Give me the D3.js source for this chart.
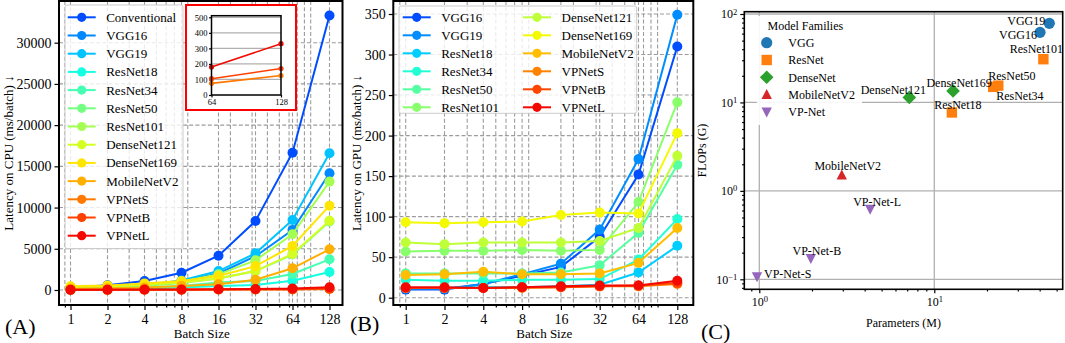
<!DOCTYPE html>
<html>
<head>
<meta charset="utf-8">
<script src="https://cdn.jsdelivr.net/npm/d3@7"></script>
<style>
  html, body { margin: 0; padding: 0; background: #fff; }
  svg { display: block; font-family: "Liberation Serif", "Times New Roman", serif; }
</style>
</head>
<body>
<svg id="chart" width="1065" height="343"></svg>
<script>
// ---- data ----
const batchSizes = [1, 2, 4, 8, 16, 32, 64, 128];

const cpuModels = ["Conventional", "VGG16", "VGG19", "ResNet18", "ResNet34", "ResNet50", "ResNet101",
  "DenseNet121", "DenseNet169", "MobileNetV2", "VPNetS", "VPNetB", "VPNetL"];
const cpuLatency = [
  [300, 580, 1090, 2100, 4160, 8370, 16660, 33300],
  [150, 280, 550, 1050, 2000, 4100, 7280, 14160],
  [170, 320, 620, 1150, 2300, 4450, 8500, 16590],
  [40, 80, 150, 290, 500, 620, 1130, 2180],
  [80, 140, 260, 500, 900, 1100, 1940, 3720],
  [200, 300, 500, 850, 1400, 2300, 4300, 8300],
  [300, 400, 600, 1000, 1900, 3600, 6760, 13150],
  [380, 450, 650, 900, 1400, 2300, 4370, 8410],
  [450, 560, 800, 1100, 1700, 2900, 5340, 10230],
  [150, 200, 300, 500, 700, 1250, 2630, 4940],
  [15, 18, 25, 35, 50, 60, 75, 125],
  [18, 22, 30, 45, 60, 80, 105, 170],
  [25, 35, 50, 70, 100, 130, 180, 330]
];
const cpuYTicks = [0, 5000, 10000, 15000, 20000, 25000, 30000];

const insetModels = ["VPNetS", "VPNetB", "VPNetL"];
const insetBatch = [64, 128];
const insetLatency = [[75, 125], [105, 170], [180, 330]];
const insetYTicks = [0, 100, 200, 300, 400, 500];

const gpuModels = ["VGG16", "VGG19", "ResNet18", "ResNet34", "ResNet50", "ResNet101",
  "DenseNet121", "DenseNet169", "MobileNetV2", "VPNetS", "VPNetB", "VPNetL"];
const gpuLatency = [
  [10, 10, 17, 27, 38, 75, 152, 310],
  [11, 11, 17, 29, 42, 84, 171, 349],
  [12, 12, 13, 13, 14, 16, 31, 64],
  [22, 21, 21, 22, 22, 23, 47, 97],
  [30, 30, 30, 30, 31, 40, 80, 164],
  [57, 58, 58, 59, 58, 59, 118, 241],
  [68, 66, 68, 68, 68, 70, 86, 175],
  [93, 92, 93, 94, 102, 105, 104, 203],
  [28, 29, 32, 29, 29, 30, 43, 86],
  [12, 12, 12, 12, 13, 14, 14, 17],
  [12, 12, 12, 13, 13, 14, 15, 18],
  [13, 13, 12, 13, 14, 15, 15, 21]
];
const gpuYTicks = [0, 50, 100, 150, 200, 250, 300, 350];

const families = ["VGG", "ResNet", "DenseNet", "MobileNetV2", "VP-Net"];
const familyColors = ["#1f77b4", "#ff7f0e", "#2ca02c", "#d62728", "#9467bd"];
const familyShapes = ["circle", "square", "diamond", "triangleUp", "triangleDown"];

const scatterNames = ["VGG16", "VGG19", "ResNet18", "ResNet34", "ResNet50", "ResNet101",
  "DenseNet121", "DenseNet169", "MobileNetV2", "VP-Net-S", "VP-Net-B", "VP-Net-L"];
const scatterFamily = ["VGG", "VGG", "ResNet", "ResNet", "ResNet", "ResNet",
  "DenseNet", "DenseNet", "MobileNetV2", "VP-Net", "VP-Net", "VP-Net"];
const scatterParams = [40.2, 45.4, 12.6, 21.7, 23.2, 42.0, 7.2, 12.8, 2.96, 0.97, 1.97, 4.3];
const scatterFlops = [62, 78.5, 7.7, 15.0, 15.5, 30.8, 11.4, 13.5, 1.51, 0.107, 0.172, 0.62];

// label placement (px offset from the point, text anchor)
const labelOffset = {
  "VGG16": [-3, 2, "end"], "VGG19": [-4, -2, "end"], "ResNet18": [6, -8, "middle"],
  "ResNet34": [3, 9, "start"], "ResNet50": [-10, -10, "start"], "ResNet101": [-7, -10, "middle"],
  "DenseNet121": [-16, -8, "middle"], "DenseNet169": [6, -8, "middle"], "MobileNetV2": [6, -9, "middle"],
  "VP-Net-S": [7, -3, "start"], "VP-Net-B": [6, -8, "middle"], "VP-Net-L": [7, -7, "middle"]
};

// ---- helpers ----
const svg = d3.select("#chart");
const GRID = "#9c9c9c";

// matplotlib jet
function jet(t) {
  const seg = (pts) => {
    for (let i = 1; i < pts.length; i++) {
      if (t <= pts[i][0]) {
        const [x0, y0] = pts[i - 1], [x1, y1] = pts[i];
        return y0 + (y1 - y0) * (t - x0) / (x1 - x0);
      }
    }
    return pts[pts.length - 1][1];
  };
  const r = seg([[0, 0], [0.35, 0], [0.66, 1], [0.89, 1], [1, 0.5]]);
  const g = seg([[0, 0], [0.125, 0], [0.375, 1], [0.64, 1], [0.91, 0], [1, 0]]);
  const b = seg([[0, 0.5], [0.11, 1], [0.34, 1], [0.65, 0], [1, 0]]);
  return d3.rgb(r * 255, g * 255, b * 255).formatHex();
}
const jetColors = (n) => d3.range(n).map(i => jet(0.2 + 0.7 * i / (n - 1)));

function minorLog(lo, hi) {
  const out = [];
  for (let p = -2; p <= 3; p++) {
    for (let k = 2; k <= 9; k++) {
      const v = k * Math.pow(10, p);
      if (v >= lo && v <= hi) out.push(v);
    }
  }
  return out;
}

function styleAxis(a, size) {
  a.attr("font-family", null).attr("font-size", null);
  a.select(".domain").remove();
  a.selectAll("line").attr("stroke", "#000").attr("stroke-width", 1.2);
  a.selectAll("text").attr("font-size", size).attr("fill", "#000");
}

function linePanel(opts) {
  const { x0, x1, y0, y1, xs, ys, yTicks, models, values, colors, ylabel, labelX } = opts;
  const g = svg.append("g");
  const lo = xs.invert(x0), hi = xs.invert(x1);
  const minor = minorLog(lo, hi).filter(v => !batchSizes.includes(v));

  // grid
  const grid = g.append("g").attr("stroke", GRID).attr("stroke-width", 1.1).attr("stroke-dasharray", "4,2.2");
  grid.selectAll(".vx").data(batchSizes.concat(minor)).enter().append("line")
    .attr("x1", d => xs(d)).attr("x2", d => xs(d)).attr("y1", y0).attr("y2", y1);
  grid.selectAll(".hy").data(yTicks).enter().append("line")
    .attr("x1", x0).attr("x2", x1).attr("y1", d => ys(d)).attr("y2", d => ys(d));

  // axes
  const xAxis = g.append("g").attr("transform", `translate(0,${y1})`)
    .call(d3.axisBottom(xs).tickValues(batchSizes).tickFormat(d3.format("d")).tickSize(5).tickPadding(4));
  const xMinor = g.append("g").attr("transform", `translate(0,${y1})`)
    .call(d3.axisBottom(xs).tickValues(minor).tickFormat("").tickSize(2.5));
  const yAxis = g.append("g").attr("transform", `translate(${x0},0)`)
    .call(d3.axisLeft(ys).tickValues(yTicks).tickFormat(d3.format("d")).tickSize(4.5).tickPadding(3));
  [xAxis, xMinor, yAxis].forEach(a => styleAxis(a, 14));

  // series
  const line = d3.line().x((d, i) => xs(batchSizes[i])).y(d => ys(d));
  const series = g.append("g");
  models.forEach((m, k) => {
    series.append("path").datum(values[k])
      .attr("d", line).attr("fill", "none").attr("stroke", colors[k]).attr("stroke-width", 2);
    series.selectAll(null).data(values[k]).enter().append("circle")
      .attr("cx", (d, i) => xs(batchSizes[i])).attr("cy", d => ys(d))
      .attr("r", 5).attr("fill", colors[k]);
  });

  g.append("rect").attr("x", x0).attr("y", y0).attr("width", x1 - x0).attr("height", y1 - y0)
    .attr("fill", "none").attr("stroke", "#000").attr("stroke-width", 2);

  g.append("text").attr("x", (x0 + x1) / 2 + 1).attr("y", 337.5).attr("text-anchor", "middle")
    .attr("font-size", 13).text("Batch Size");
  g.append("text").attr("transform", `translate(${labelX},${(y0 + y1) / 2}) rotate(-90)`)
    .attr("text-anchor", "middle").attr("dy", "0.35em").attr("font-size", 13).text(ylabel);
  return g;
}

function legendEntry(g, x, y, color, name, gap) {
  g.append("line").attr("x1", x - 14).attr("x2", x + 14).attr("y1", y).attr("y2", y)
    .attr("stroke", color).attr("stroke-width", 2);
  g.append("circle").attr("cx", x).attr("cy", y).attr("r", 4.6).attr("fill", color);
  g.append("text").attr("x", x + gap).attr("y", y).attr("dy", "0.34em").attr("font-size", 13).text(name);
}

// ---- panel A : CPU ----
const xA = d3.scaleLog().base(2).domain([1, 128]).range([70.5, 329.5]);
const yA = d3.scaleLinear().domain([0, 30000]).range([290, 42.7]);
const colorsA = jetColors(cpuModels.length);
linePanel({ x0: 59, x1: 342.5, y0: 1, y1: 305, xs: xA, ys: yA, yTicks: cpuYTicks,
  models: cpuModels, values: cpuLatency, colors: colorsA,
  ylabel: "Latency on CPU (ms/batch) \u2193", labelX: 8 });

const legA = svg.append("g");
legA.append("rect").attr("x", 65).attr("y", 5).attr("width", 118).attr("height", 243.5).attr("rx", 2)
  .attr("fill", "#fff").attr("fill-opacity", 0.8).attr("stroke", "#cccccc").attr("stroke-width", 1);
cpuModels.forEach((m, i) => legendEntry(legA, 81.7, 17.3 + 18.2 * i, colorsA[i], m, 24.5));

// inset
const inset = svg.append("g");
inset.append("rect").attr("x", 186).attr("y", 5).attr("width", 110).attr("height", 105)
  .attr("fill", "#fff").attr("stroke", "#ff0000").attr("stroke-width", 2);
const xI = d3.scaleLinear().domain([64, 128]).range([211.5, 281]);
const yI = d3.scaleLinear().domain([0, 500]).range([95, 17.3]);
inset.selectAll(".ig").data(insetYTicks.slice(1)).enter().append("line")
  .attr("x1", 211.5).attr("x2", 281).attr("y1", d => yI(d)).attr("y2", d => yI(d))
  .attr("stroke", "#b0b0b0").attr("stroke-width", 1.2);
const iy = inset.append("g").attr("transform", "translate(211.5,0)")
  .call(d3.axisLeft(yI).tickValues(insetYTicks).tickSize(2.5).tickPadding(1.5));
const ix = inset.append("g").attr("transform", "translate(0,95)")
  .call(d3.axisBottom(xI).tickValues(insetBatch).tickSize(2.5).tickPadding(1.5));
[iy, ix].forEach(a => styleAxis(a, 8.5));
const colorsI = insetModels.map(m => colorsA[cpuModels.indexOf(m)]);
const lineI = d3.line().x((d, i) => xI(insetBatch[i])).y(d => yI(d));
insetModels.forEach((m, k) => {
  inset.append("path").datum(insetLatency[k]).attr("d", lineI).attr("fill", "none")
    .attr("stroke", colorsI[k]).attr("stroke-width", 1.6);
  inset.selectAll(null).data(insetLatency[k]).enter().append("circle")
    .attr("cx", (d, i) => xI(insetBatch[i])).attr("cy", d => yI(d)).attr("r", 2.6).attr("fill", colorsI[k]);
});
inset.append("rect").attr("x", 211.5).attr("y", 15.7).attr("width", 69.5).attr("height", 79.3)
  .attr("fill", "none").attr("stroke", "#000").attr("stroke-width", 1.5);

// ---- panel B : GPU ----
const xB = d3.scaleLog().base(2).domain([1, 128]).range([405.7, 677.3]);
const yB = d3.scaleLinear().domain([0, 350]).range([297.7, 14]);
const colorsB = jetColors(gpuModels.length);
linePanel({ x0: 393.3, x1: 693.3, y0: 1, y1: 305, xs: xB, ys: yB, yTicks: gpuYTicks,
  models: gpuModels, values: gpuLatency, colors: colorsB,
  ylabel: "Latency on GPU (ms/batch) \u2193", labelX: 356 });

const legB = svg.append("g");
legB.append("rect").attr("x", 399).attr("y", 6).attr("width", 237.7).attr("height", 107.3).attr("rx", 2)
  .attr("fill", "#fff").attr("fill-opacity", 0.8).attr("stroke", "#cccccc").attr("stroke-width", 1);
gpuModels.forEach((m, i) => {
  const col = Math.floor(i / 6), row = i % 6;
  legendEntry(legB, col === 0 ? 416.7 : 537, 17.3 + 18 * row, colorsB[i], m, 24.5);
});

// ---- panel C : params vs FLOPs ----
const cx0 = 744.3, cx1 = 1062.7, cy0 = 11.7, cy1 = 289.3;
const xC = d3.scaleLog().domain([1, 10]).range([759.3, 934.3]);
const yC = d3.scaleLog().domain([0.1, 100]).range([279.3, 14]);
const gC = svg.append("g");
const xMajC = [1, 10], yMajC = [0.1, 1, 10, 100];
gC.append("g").attr("stroke", "#b0b0b0").attr("stroke-width", 1.3).call(s => {
  s.selectAll(".v").data(xMajC).enter().append("line")
    .attr("x1", d => xC(d)).attr("x2", d => xC(d)).attr("y1", cy0).attr("y2", cy1);
  s.selectAll(".h").data(yMajC).enter().append("line")
    .attr("x1", cx0).attr("x2", cx1).attr("y1", d => yC(d)).attr("y2", d => yC(d));
});

const supFmt = (sel) => sel.each(function(d) {
  const t = d3.select(this).text("");
  const e = Math.round(Math.log10(d));
  t.append("tspan").text("10");
  t.append("tspan").attr("dy", "-0.45em").attr("font-size", 8.5).text(e < 0 ? "\u2212" + (-e) : e);
});
const cxAxis = gC.append("g").attr("transform", `translate(0,${cy1})`)
  .call(d3.axisBottom(xC).tickValues(xMajC).tickSize(4).tickPadding(4));
const cxMinor = gC.append("g").attr("transform", `translate(0,${cy1})`)
  .call(d3.axisBottom(xC).tickValues(minorLog(xC.invert(cx0), xC.invert(cx1))).tickFormat("").tickSize(2.2));
const cyAxis = gC.append("g").attr("transform", `translate(${cx0},0)`)
  .call(d3.axisLeft(yC).tickValues(yMajC).tickSize(4).tickPadding(3));
const cyMinor = gC.append("g").attr("transform", `translate(${cx0},0)`)
  .call(d3.axisLeft(yC).tickValues(minorLog(yC.invert(cy1), yC.invert(cy0))).tickFormat("").tickSize(2.2));
[cxAxis, cxMinor, cyAxis, cyMinor].forEach(a => styleAxis(a, 12));
cxAxis.selectAll(".tick text").call(supFmt);
cyAxis.selectAll(".tick text").call(supFmt);

function markerPath(shape) {
  if (shape === "circle") return d3.symbol(d3.symbolCircle, Math.PI * 5.6 * 5.6)();
  if (shape === "square") return "M-5.2,-5.2H5.2V5.2H-5.2Z";
  if (shape === "diamond") return "M0,-6.8L6.8,0L0,6.8L-6.8,0Z";
  if (shape === "triangleUp") return "M0,-5.6L5.2,4.4L-5.2,4.4Z";
  return "M0,5.6L5.2,-4.4L-5.2,-4.4Z";
}

// legend box sits over the grid
const legC = gC.append("g");
legC.append("rect").attr("x", 757).attr("y", 16).attr("width", 105).attr("height", 109)
  .attr("fill", "#fff").attr("fill-opacity", 0.9);
legC.append("text").attr("x", 767.5).attr("y", 25.7).attr("dy", "0.35em").attr("font-size", 12)
  .text("Model Families");
families.forEach((f, i) => {
  const y = 42.7 + 17.3 * i;
  legC.append("path").attr("d", markerPath(familyShapes[i]))
    .attr("transform", `translate(766.7,${y})`).attr("fill", familyColors[i]);
  legC.append("text").attr("x", 788.3).attr("y", y).attr("dy", "0.35em").attr("font-size", 12).text(f);
});

const pts = gC.append("g");
scatterNames.forEach((n, i) => {
  const fi = families.indexOf(scatterFamily[i]);
  const px = xC(scatterParams[i]), py = yC(scatterFlops[i]);
  pts.append("path").attr("d", markerPath(familyShapes[fi]))
    .attr("transform", `translate(${px},${py})`).attr("fill", familyColors[fi]);
  const [dx, dy, anchor] = labelOffset[n];
  pts.append("text").attr("x", px + dx).attr("y", py + dy).attr("dy", "0.35em")
    .attr("text-anchor", anchor).attr("font-size", 12).text(n);
});

gC.append("rect").attr("x", cx0).attr("y", cy0).attr("width", cx1 - cx0).attr("height", cy1 - cy0)
  .attr("fill", "none").attr("stroke", "#000").attr("stroke-width", 1.6);
gC.append("text").attr("x", (cx0 + cx1) / 2).attr("y", 322.7).attr("dy", "0.35em")
  .attr("text-anchor", "middle").attr("font-size", 12).text("Parameters (M)");
gC.append("text").attr("transform", `translate(702,${(cy0 + cy1) / 2}) rotate(-90)`)
  .attr("text-anchor", "middle").attr("dy", "0.35em").attr("font-size", 12).text("FLOPs (G)");

// panel letters
[["(A)", 5, 334], ["(B)", 350, 331], ["(C)", 701, 339]].forEach(([t, x, y]) => {
  svg.append("text").attr("x", x).attr("y", y).attr("font-size", 22).text(t);
});
</script>
</body>
</html>
